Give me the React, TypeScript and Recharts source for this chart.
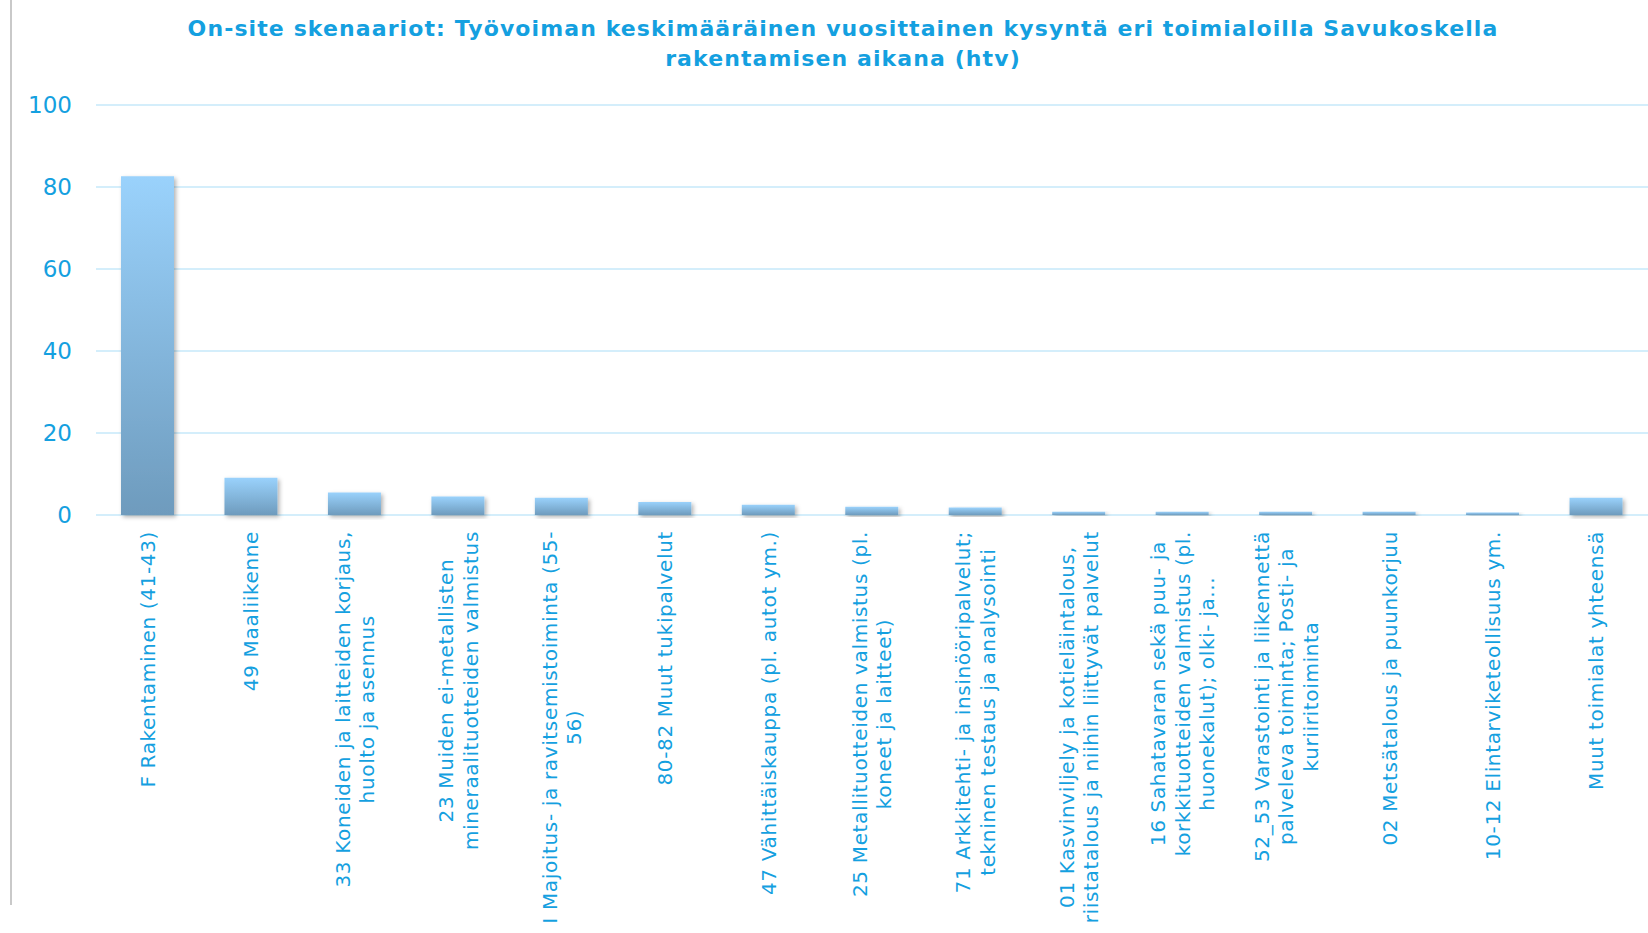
import { Bar, BarChart, CartesianGrid, XAxis, YAxis } from 'recharts'

const titleLines = [
  'On-site skenaariot: Työvoiman keskimääräinen vuosittainen kysyntä eri toimialoilla Savukoskella',
  'rakentamisen aikana (htv)',
]

// line breaks follow the wrapping in the original chart
const categories = [
  'F Rakentaminen (41-43)',
  '49 Maaliikenne',
  '33 Koneiden ja laitteiden korjaus,\nhuolto ja asennus',
  '23 Muiden ei-metallisten\nmineraalituotteiden valmistus',
  'I Majoitus- ja ravitsemistoiminta (55-\n56)',
  '80-82 Muut tukipalvelut',
  '47 Vähittäiskauppa (pl. autot ym.)',
  '25 Metallituotteiden valmistus (pl.\nkoneet ja laitteet)',
  '71 Arkkitehti- ja insinööripalvelut;\ntekninen testaus ja analysointi',
  '01 Kasvinviljely ja kotieläintalous,\nriistatalous ja niihin liittyvät palvelut',
  '16 Sahatavaran sekä puu- ja\nkorkkituotteiden valmistus (pl.\nhuonekalut); olki- ja...',
  '52_53 Varastointi ja liikennettä\npalveleva toiminta; Posti- ja\nkuriiritoiminta',
  '02 Metsätalous ja puunkorjuu',
  '10-12 Elintarviketeollisuus ym.',
  'Muut toimialat yhteensä',
]

const demand = [82.6, 9.1, 5.5, 4.5, 4.2, 3.2, 2.5, 2.0, 1.8, 0.8, 0.8, 0.8, 0.8, 0.6, 4.2]

const yTicks = [0, 20, 40, 60, 80, 100]

const data = categories.map((name, i) => ({ name, value: demand[i] }))

const blue = '#14a0e0'
const font = 'Verdana, "DejaVu Sans", sans-serif'
const labelSize = 20
const labelSpacing = 0.65
const lineHeight = 24.5

let ctx: CanvasRenderingContext2D | null = null
function measure(s: string) {
  if (!ctx) ctx = document.createElement('canvas').getContext('2d')
  if (!ctx) return s.length * labelSize * 0.65
  ctx.font = `${labelSize}px ${font}`
  return ctx.measureText(s).width + s.length * labelSpacing
}

function CategoryTick(props: any) {
  const { x, y, payload } = props
  const lines = String(payload.value).split('\n')
  const w = Math.max(...lines.map(measure))
  return (
    <g transform={`translate(${x},${y + 16}) rotate(-90)`}>
      {lines.map((line, i) => (
        <text
          key={i}
          x={-w / 2}
          y={(i - (lines.length - 1) / 2) * lineHeight}
          dy='0.36em'
          textAnchor='middle'
          fill={blue}
          fontSize={labelSize}
          fontFamily={font}
          letterSpacing={labelSpacing}
        >
          {line}
        </text>
      ))}
    </g>
  )
}

export default function App() {
  return (
    <div
      style={{
        position: 'absolute',
        left: 0,
        top: 0,
        width: 1648,
        height: 933,
        overflow: 'hidden',
        background: '#fff',
      }}
    >
      <div
        style={{
          position: 'absolute',
          left: 10,
          top: 0,
          width: 2,
          height: 905,
          background: '#c9c9c9',
        }}
      />
      <div
        style={{
          position: 'absolute',
          left: 38,
          right: 0,
          top: 14,
          textAlign: 'center',
          color: blue,
          fontFamily: font,
          fontWeight: 'bold',
          fontSize: 22,
          letterSpacing: 1.1,
          lineHeight: '30px',
        }}
      >
        {titleLines.map((t) => (
          <div key={t}>{t}</div>
        ))}
      </div>
      <div style={{ position: 'absolute', left: 0, top: 0 }}>
        <BarChart
          width={1648}
          height={933}
          data={data}
          margin={{ top: 105, right: 0, bottom: 0, left: 0 }}
          barSize={53}
        >
          <defs>
            <linearGradient id='barFill' x1='0' y1='0' x2='0' y2='1'>
              <stop offset='0%' stopColor='#9ad2fc' />
              <stop offset='100%' stopColor='#6e9bbd' />
            </linearGradient>
            <filter id='barShadow' x='-20%' y='-20%' width='140%' height='140%'>
              <feDropShadow dx='2' dy='2' stdDeviation='2' floodColor='#000' floodOpacity='0.3' />
            </filter>
          </defs>
          <CartesianGrid vertical={false} stroke='#d4eefb' strokeWidth={2} />
          <XAxis
            dataKey='name'
            interval={0}
            height={418}
            axisLine={false}
            tickLine={false}
            tickSize={0}
            tickMargin={0}
            tick={<CategoryTick />}
          />
          <YAxis
            width={96}
            domain={[0, 100]}
            ticks={yTicks}
            axisLine={false}
            tickLine={false}
            tickMargin={18}
            tick={{ fill: blue, fontSize: 23, fontFamily: font }}
          />
          <Bar
            dataKey='value'
            fill='url(#barFill)'
            filter='url(#barShadow)'
            isAnimationActive={false}
          />
        </BarChart>
      </div>
    </div>
  )
}
